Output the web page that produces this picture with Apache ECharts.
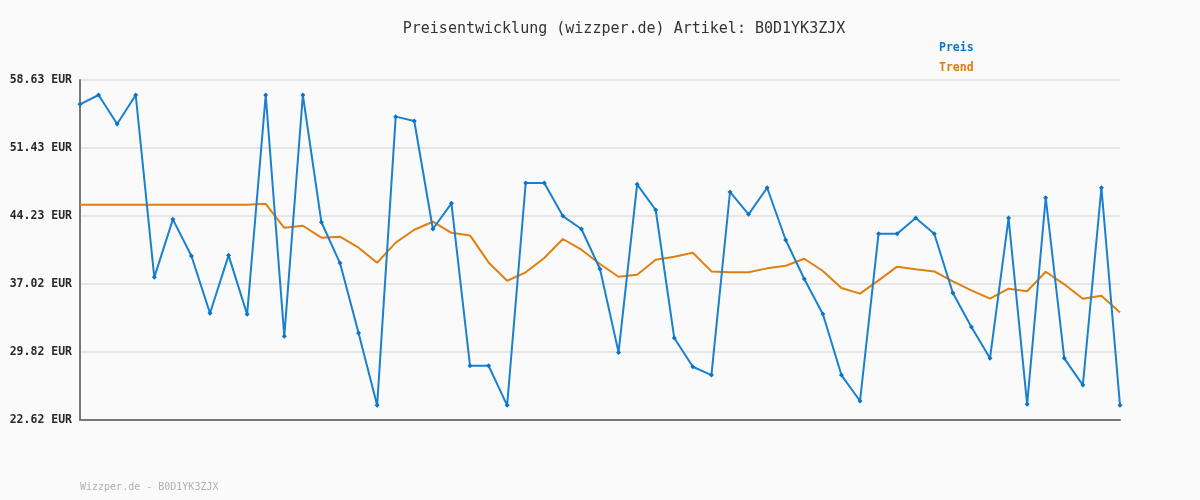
<!DOCTYPE html>
<html>
<head>
<meta charset="utf-8">
<script src="https://cdn.jsdelivr.net/npm/echarts@6/dist/echarts.min.js"></script>
<style>
html,body{margin:0;padding:0;background:#fafafa;}
#chart{width:1200px;height:500px;}
</style>
</head>
<body>
<div id="chart"></div>
<script>
var categories = [];
for (var i = 1; i <= 57; i++) categories.push(String(i));

var preis = [56.05, 57.04, 53.97, 57.04, 37.73, 43.87, 39.99, 33.92, 40.06, 33.81,
  57.04, 31.48, 57.04, 43.56, 39.24, 31.83, 24.17, 54.75, 54.29, 42.85,
  45.57, 28.37, 28.37, 24.17, 47.72, 47.72, 44.22, 42.85, 38.61, 29.78,
  47.58, 44.86, 31.30, 28.26, 27.38, 46.77, 44.40, 47.22, 41.68, 37.55,
  33.84, 27.38, 24.63, 42.35, 42.35, 44.01, 42.35, 36.07, 32.46, 29.15,
  44.01, 24.28, 46.16, 29.15, 26.32, 47.22, 24.17];

var trend = [45.42, 45.42, 45.42, 45.42, 45.42, 45.42, 45.42, 45.42, 45.42, 45.42,
  45.52, 42.98, 43.19, 41.93, 42.04, 40.87, 39.28, 41.40, 42.77, 43.62,
  42.45, 42.17, 39.31, 37.37, 38.26, 39.78, 41.79, 40.66, 39.14, 37.79,
  38.01, 39.60, 39.91, 40.34, 38.36, 38.26, 38.26, 38.68, 38.96, 39.70,
  38.40, 36.60, 36.00, 37.41, 38.86, 38.58, 38.36, 37.31, 36.35, 35.47,
  36.53, 36.25, 38.32, 36.99, 35.47, 35.79, 34.00];

var yTicks = [22.62, 29.82, 37.02, 44.23, 51.43, 58.63];

var mono = '"DejaVu Sans Mono", "Liberation Mono", monospace';
var chart = echarts.init(document.getElementById('chart'));
chart.setOption({
  backgroundColor: '#fafafa',
  animation: false,
  title: [{
    text: 'Preisentwicklung (wizzper.de) Artikel: B0D1YK3ZJX',
    left: 619, top: 17, textAlign: 'center',
    textStyle: {fontFamily: mono, fontSize: 15, fontWeight: 'normal', color: '#333'}
  }, {
    text: 'Wizzper.de - B0D1YK3ZJX',
    left: 75, top: 477,
    textStyle: {fontFamily: mono, fontSize: 10, fontWeight: 'normal', color: '#b0b0b0'}
  }],
  legend: {
    orient: 'vertical', left: 934, top: 37, itemGap: 8,
    icon: 'none', itemWidth: 0, itemHeight: 12,
    selectedMode: false,
    textStyle: {fontFamily: mono, fontSize: 11.5, fontWeight: 'bold', padding: [0,0,0,-5]},
    data: [
      {name: 'Preis', textStyle: {color: '#0a78c8'}},
      {name: 'Trend', textStyle: {color: '#e07a0a'}}
    ]
  },
  grid: {left: 80, right: 80, top: 80, bottom: 80, containLabel: false},
  xAxis: {
    type: 'category', data: categories, boundaryGap: false,
    axisLine: {show: true, lineStyle: {color: '#777', width: 2}},
    axisTick: {show: false}, axisLabel: {show: false}, splitLine: {show: false}
  },
  yAxis: {
    type: 'value', min: yTicks[0], max: yTicks[yTicks.length - 1],
    axisLine: {show: true, lineStyle: {color: '#777', width: 2}},
    axisTick: {show: false, customValues: yTicks},
    axisLabel: {
      customValues: yTicks, margin: 8,
      fontFamily: mono, fontSize: 11.5, fontWeight: 'bold', color: '#2a2a2a',
      formatter: function (v) { return v.toFixed(2) + ' EUR'; }
    },
    splitLine: {show: true, lineStyle: {color: '#e6e6e6', width: 2}}
  },
  series: [{
    name: 'Preis', type: 'line', data: preis,
    color: '#1a80d0',
    lineStyle: {width: 2, color: '#1a80d0'},
    symbol: 'diamond', symbolSize: 5,
    itemStyle: {color: '#0a74c8'}, z: 3
  }, {
    name: 'Trend', type: 'line', data: trend,
    color: '#e07a0a',
    lineStyle: {width: 2, color: '#e08010'},
    symbol: 'none', z: 2
  }]
});
</script>
</body>
</html>
